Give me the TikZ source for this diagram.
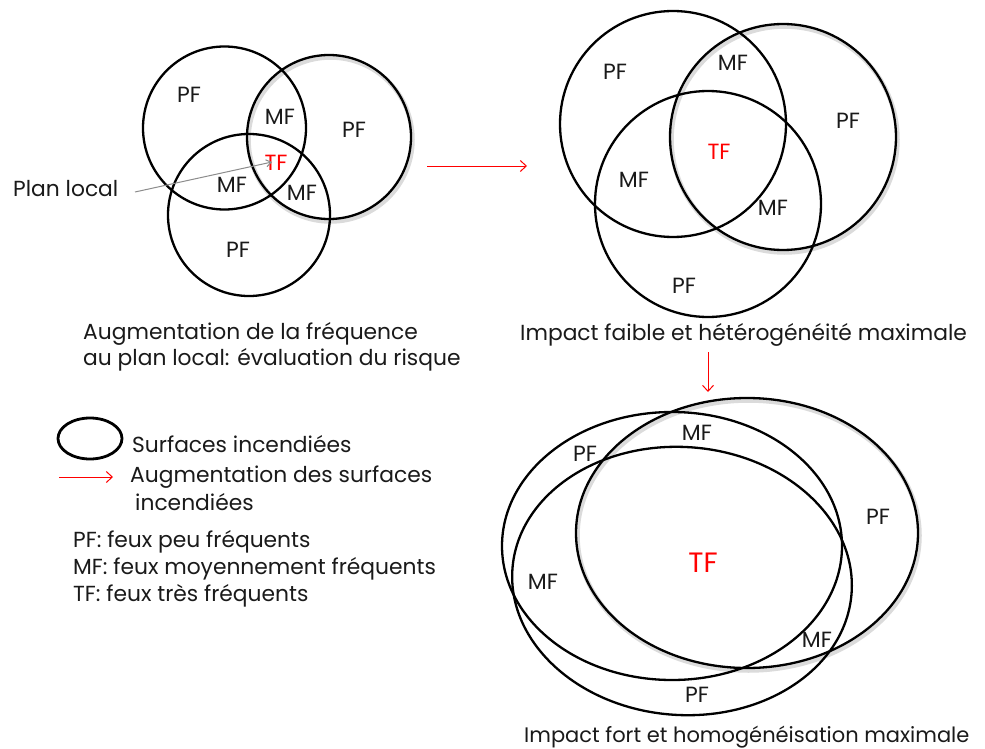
\documentclass[tikz,border=0pt]{standalone}
\usepackage{fontspec}
\setmainfont{Poppins}
\usetikzlibrary{arrows.meta}
\definecolor{txt}{HTML}{1A1A1A}
\definecolor{tfred}{HTML}{FF0000}
\begin{document}
\begin{tikzpicture}[x=1pt,y=-1pt,
  ring/.style={draw=black,line width=2.3pt},
  shade/.style={draw=black!14,line width=4.5pt},
  lbl/.style={inner sep=0pt,text=txt,font=\fontsize{22}{26}\selectfont},
  tflbl/.style={lbl,text=tfred},
  bigtf/.style={inner sep=0pt,text=tfred,font=\fontsize{28}{32}\selectfont},
  capt/.style={inner sep=0pt,text=txt,font=\fontsize{21.8}{26}\selectfont,anchor=base west},
  redarrow/.style={draw=red,line width=1pt,-{Straight Barb[length=6pt,width=11pt,line width=1pt]}},
  grayarrow/.style={draw=black!45,line width=1pt,-{Straight Barb[length=5pt,width=7pt,line width=1pt]}}
]
\useasboundingbox (0,0) rectangle (985,749);
\fill[white] (0,0) rectangle (985,749);

% ---------- top-left Venn ----------
\draw[shade] (330.5,139.5) circle [radius=82pt];
\draw[ring] (224.5,128) circle [radius=81.5pt];
\draw[ring] (329,137) circle [radius=82pt];
\draw[ring] (249,215) circle [radius=81pt];
\node[lbl] (a1) at (189,95) {PF};
\node[lbl] (a2) at (280,117) {MF};
\node[lbl] (a3) at (354,130) {PF};
\node[tflbl] (a4) at (276,163) {TF};
\node[lbl] (a5) at (232,185) {MF};
\node[lbl] (a6) at (302,193) {MF};
\node[lbl] (a7) at (238,250) {PF};
\node[capt] (pl) at (13,196) {Plan local};
\coordinate (plS) at (135,192);
\coordinate (plE) at (272,162);
\draw[grayarrow] (plS) -- (plE);
\node[capt] (c1a) at (83,339) {Augmentation de la fréquence};
\node[capt] (c1b) at (83,365) {au plan local: évaluation du risque};

% arrow to the right
\coordinate (r1s) at (427,166);
\coordinate (r1e) at (527,166);
\draw[redarrow] (r1s) -- (r1e);

% ---------- top-right Venn ----------
\draw[shade] (784.5,139.5) circle [radius=113pt];
\draw[ring] (673,124) circle [radius=113pt];
\draw[ring] (783,137) circle [radius=113pt];
\draw[ring] (708,204) circle [radius=113pt];
\node[lbl] (b1) at (615,72) {PF};
\node[lbl] (b2) at (733,63) {MF};
\node[lbl] (b3) at (848,121) {PF};
\node[tflbl] (b4) at (719,152) {TF};
\node[lbl] (b5) at (634,180) {MF};
\node[lbl] (b6) at (773,208) {MF};
\node[lbl] (b7) at (684,286) {PF};
\node[capt] (c2) at (520,340) {Impact faible et hétérogénéité maximale};

% arrow down
\coordinate (r2s) at (708,352);
\coordinate (r2e) at (708,392);
\draw[redarrow] (r2s) -- (r2e);

% ---------- bottom Venn ----------
\draw[shade] (748.5,535.5) ellipse [x radius=171pt, y radius=135pt];
\draw[ring] (672,546) ellipse [x radius=170pt, y radius=134pt];
\draw[ring,rotate around={-4:(682,581)}] (682,581) ellipse [x radius=170pt, y radius=134pt];
\draw[ring] (747,533) ellipse [x radius=171pt, y radius=135pt];
\node[lbl] (d1) at (585,454) {PF};
\node[lbl] (d2) at (697,433) {MF};
\node[lbl] (d3) at (878,517) {PF};
\node[bigtf] (d4) at (703,563) {TF};
\node[lbl] (d5) at (543,582) {MF};
\node[lbl] (d6) at (817,640) {MF};
\node[lbl] (d7) at (697,695) {PF};
\node[capt,font=\fontsize{21}{25}\selectfont] (c3) at (524,742) {Impact fort et homogénéisation maximale};

% ---------- legend ----------
\draw[draw=black,line width=2.8pt] (90,438.5) ellipse [x radius=32pt, y radius=20.5pt];
\node[capt] (l1) at (132,452) {Surfaces incendiées};
\coordinate (r3s) at (59,477);
\coordinate (r3e) at (113,477);
\draw[redarrow] (r3s) -- (r3e);
\node[capt] (l2) at (130,482) {Augmentation des surfaces};
\node[capt] (l3) at (135,510) {incendiées};
\node[capt] (l4) at (73,547) {PF: feux peu fréquents};
\node[capt] (l5) at (73,574) {MF: feux moyennement fréquents};
\node[capt] (l6) at (73,601) {TF: feux très fréquents};
\end{tikzpicture}
\end{document}
